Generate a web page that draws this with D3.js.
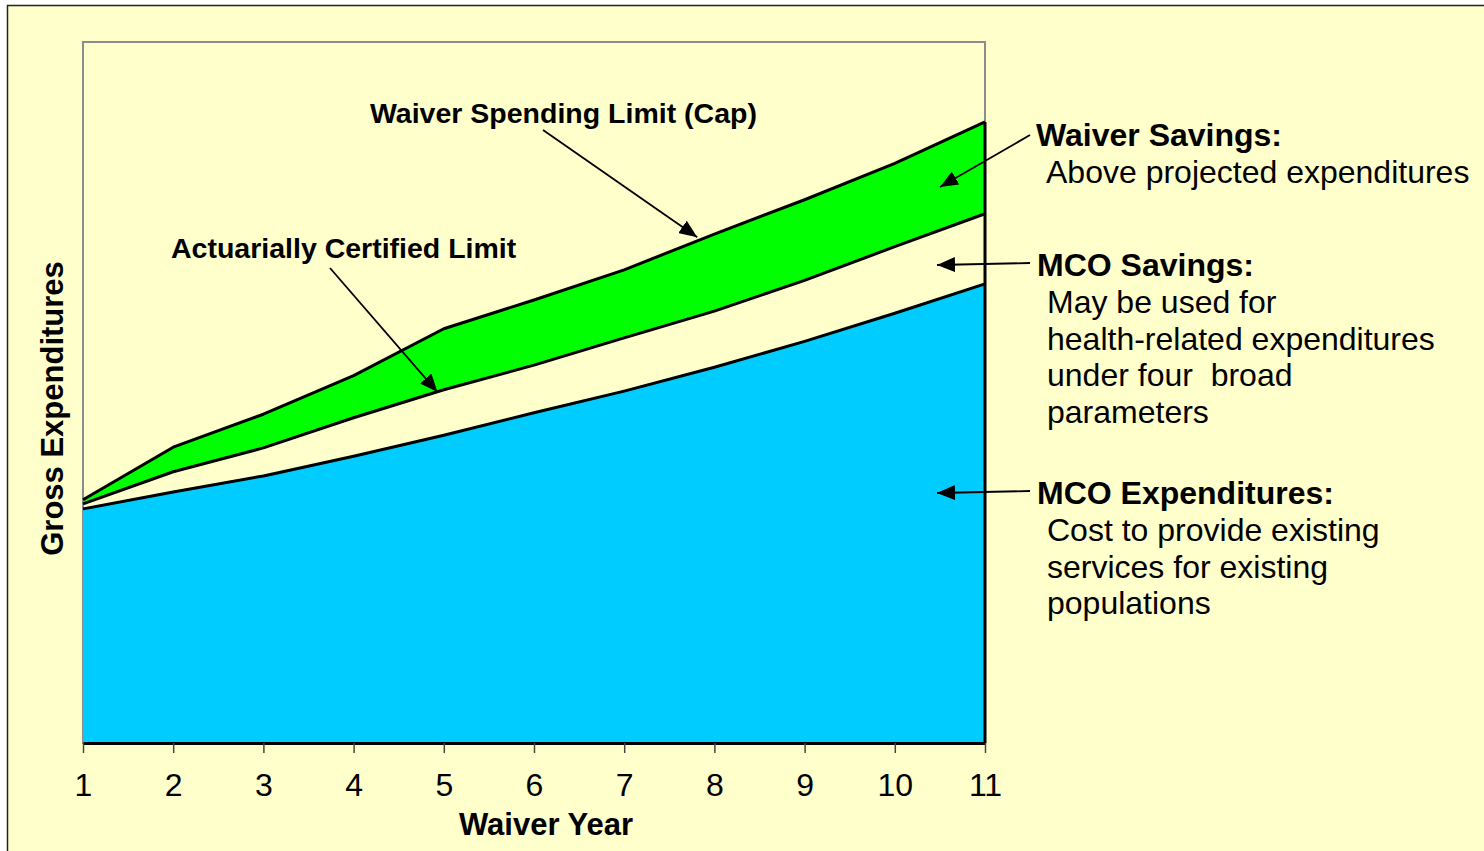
<!DOCTYPE html>
<html>
<head>
<meta charset="utf-8">
<script src="https://cdn.jsdelivr.net/npm/d3@7"></script>
<style>
  html, body { margin: 0; padding: 0; background: #ffffff; overflow: hidden; }
  svg { display: block; font-family: Arial, "Liberation Sans", sans-serif; }
</style>
</head>
<body>
<svg id="chart" width="1484" height="851"></svg>
<script>
// ---- data ----
const years = [1, 2, 3, 4, 5, 6, 7, 8, 9, 10, 11];
const mcoExpenditures = [33.4, 35.8, 38.1, 40.9, 43.9, 47.1, 50.2, 53.6, 57.3, 61.3, 65.5];
const actuarialLimit  = [34.1, 38.7, 42.1, 46.4, 50.4, 53.9, 57.8, 61.6, 66.0, 70.8, 75.5];
const waiverCap       = [34.7, 42.2, 46.9, 52.4, 59.1, 63.2, 67.5, 72.6, 77.5, 82.7, 88.6];
const xTickLabels = ["1","2","3","4","5","6","7","8","9","10","11"];

// ---- layout ----
const svg = d3.select("#chart");
const W = 1484, H = 851;
const plot = { left: 83, right: 985, top: 42, bottom: 743 };

svg.append("rect").attr("x", 0).attr("y", 0).attr("width", W).attr("height", H).attr("fill", "#ffffff");
svg.append("rect").attr("x", 7.5).attr("y", 5.5).attr("width", W + 20).attr("height", H + 20)
  .attr("fill", "#ffffcc").attr("stroke", "#222222").attr("stroke-width", 1.5);

const x = d3.scaleLinear().domain([1, 11]).range([plot.left, plot.right]);
const y = d3.scaleLinear().domain([0, 100]).range([plot.bottom, plot.top]);

// plot frame (grey)
svg.append("rect")
  .attr("x", plot.left).attr("y", plot.top)
  .attr("width", plot.right - plot.left).attr("height", plot.bottom - plot.top)
  .attr("fill", "#ffffcc").attr("stroke", "#8c8c8c").attr("stroke-width", 2);

const rows = years.map((yr, i) => ({ yr, mco: mcoExpenditures[i], act: actuarialLimit[i], cap: waiverCap[i] }));

// green band: between actuarial limit and cap
svg.append("path").datum(rows)
  .attr("fill", "#00ff00")
  .attr("d", d3.area().x(d => x(d.yr)).y0(d => y(d.act)).y1(d => y(d.cap)));

// blue area: MCO expenditures
svg.append("path").datum(rows)
  .attr("fill", "#00ccff")
  .attr("d", d3.area().x(d => x(d.yr)).y0(y(0)).y1(d => y(d.mco)));

// series lines
const lineGen = key => d3.line().x(d => x(d.yr)).y(d => y(d[key]));
["mco", "act", "cap"].forEach(k => {
  svg.append("path").datum(rows)
    .attr("fill", "none").attr("stroke", "#000").attr("stroke-width", 3)
    .attr("stroke-linejoin", "round")
    .attr("d", lineGen(k));
});

// right edge of the stacked areas
svg.append("line")
  .attr("x1", x(11)).attr("x2", x(11))
  .attr("y1", y(waiverCap[waiverCap.length - 1])).attr("y2", y(0))
  .attr("stroke", "#000").attr("stroke-width", 3);

// x axis
const xAxis = d3.axisBottom(x).tickValues(years).tickFormat((d, i) => xTickLabels[i])
  .tickSize(10).tickSizeOuter(0).tickPadding(20);
const gx = svg.append("g").attr("transform", `translate(0,${plot.bottom})`).call(xAxis);
gx.select(".domain").attr("stroke", "#000").attr("stroke-width", 3);
gx.selectAll(".tick line").attr("stroke", "#444").attr("stroke-width", 1.5);
gx.selectAll(".tick text").attr("fill", "#000").attr("font-size", 32)
  .attr("font-family", "Arial, 'Liberation Sans', sans-serif");

// axis titles
svg.append("text")
  .attr("x", 546).attr("y", 835)
  .attr("text-anchor", "middle").attr("font-size", 31).attr("font-weight", "bold")
  .text("Waiver Year");

svg.append("text")
  .attr("transform", `translate(63,${(plot.top + plot.bottom) / 2 + 16}) rotate(-90)`)
  .attr("text-anchor", "middle").attr("font-size", 31).attr("font-weight", "bold")
  .text("Gross Expenditures");

// arrow marker
const defs = svg.append("defs");
defs.append("marker")
  .attr("id", "arrowhead").attr("markerUnits", "userSpaceOnUse")
  .attr("viewBox", "0 0 18 15").attr("refX", 18).attr("refY", 7.5)
  .attr("markerWidth", 18).attr("markerHeight", 15).attr("orient", "auto")
  .append("path").attr("d", "M0,0 L18,7.5 L0,15 Z").attr("fill", "#000");

function arrow(x1, y1, x2, y2) {
  svg.append("line")
    .attr("x1", x1).attr("y1", y1).attr("x2", x2).attr("y2", y2)
    .attr("stroke", "#000").attr("stroke-width", 1.8)
    .attr("marker-end", "url(#arrowhead)");
}

// in-plot annotations
svg.append("text").attr("x", 370).attr("y", 123)
  .attr("font-size", 28.5).attr("font-weight", "bold").text("Waiver Spending Limit (Cap)");
arrow(543, 130, x(7.81), y(72.3) + 1);

svg.append("text").attr("x", 171).attr("y", 258)
  .attr("font-size", 28.5).attr("font-weight", "bold").text("Actuarially Certified Limit");
arrow(330, 268, x(4.93), y(50.2) + 1);

// right-side annotations
arrow(1030, 135, 940, 187);
arrow(1030, 263, 937, 265);
arrow(1030, 491, 937, 493);

function block(xb, yb, title, lines) {
  svg.append("text").attr("x", xb).attr("y", yb)
    .attr("font-size", 32).attr("font-weight", "bold").text(title);
  lines.forEach((t, i) => {
    svg.append("text").attr("x", xb + 10).attr("y", yb + 37 + i * 36.7)
      .attr("font-size", 32).attr("xml:space", "preserve").style("white-space", "pre").text(t);
  });
}
block(1036, 146, "Waiver Savings:", ["Above projected expenditures"]);
block(1037, 276, "MCO Savings:", ["May be used for", "health-related expenditures", "under four  broad", "parameters"]);
block(1037, 504, "MCO Expenditures:", ["Cost to provide existing", "services for existing", "populations"]);
</script>
</body>
</html>
